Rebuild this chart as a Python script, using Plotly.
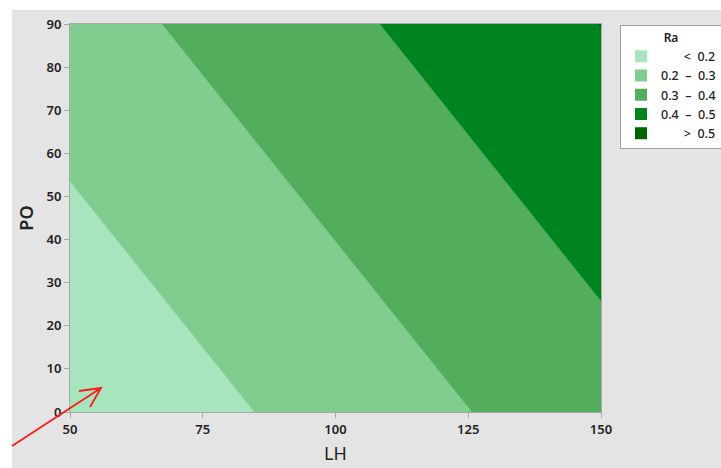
import plotly.graph_objects as go

# Data: Ra at the corners of the LH x PO region
LH = [50, 150]
PO = [0, 90]
Ra = [[0.1153, 0.3593],   # PO = 0
      [0.2578, 0.5015]]   # PO = 90

levels = [0.2, 0.3, 0.4, 0.5]
sp = "\u00a0"
band_labels = [sp * 7 + "<" + sp * 2 + "0.2",
               "0.2" + sp * 2 + "\u2013" + sp * 2 + "0.3",
               "0.3" + sp * 2 + "\u2013" + sp * 2 + "0.4",
               "0.4" + sp * 2 + "\u2013" + sp * 2 + "0.5",
               sp * 7 + ">" + sp * 2 + "0.5"]
band_colors = ["#a6e5bd", "#80cd8f", "#52ae5c", "#00841f", "#006400"]

x_ticks = [50, 75, 100, 125, 150]
y_ticks = [0, 10, 20, 30, 40, 50, 60, 70, 80, 90]

# stepwise colour scale, one bin per band
cs = []
n = len(band_colors)
for i, c in enumerate(band_colors):
    cs.append([i / n, c])
    cs.append([(i + 1) / n, c])

fig = go.Figure()
fig.add_trace(go.Contour(
    x=LH, y=PO, z=Ra,
    zmin=0.1, zmax=0.6,
    contours=dict(start=levels[0], end=levels[-1], size=0.1, coloring="fill", showlines=False),
    line=dict(width=0),
    colorscale=cs, showscale=False, hoverinfo="skip", showlegend=False,
))
for lab, col in zip(band_labels, band_colors):
    fig.add_trace(go.Scatter(
        x=[None], y=[None], mode="markers", name=lab,
        marker=dict(symbol="square", size=15, color=col),
    ))

W, H = 721, 468
L, R, T, B = 70, 120, 24, 56
pw, ph = W - L - R, H - T - B

def px(xp):
    return (xp - L) / pw

def py(yp):
    return (H - B - yp) / ph

fig.add_shape(type="rect", xref="paper", yref="paper", layer="below",
              x0=px(12), x1=px(W + 5), y0=py(H + 5), y1=py(10),
              fillcolor="#e4e4e4", line=dict(width=0))

# red arrow (shaft + open head)
tail = (12, 446)
tip = (101, 388)
b1 = (79, 391)
b2 = (90, 407)
path = (f"M {px(tail[0])},{py(tail[1])} L {px(tip[0])},{py(tip[1])} "
        f"M {px(b1[0])},{py(b1[1])} L {px(tip[0])},{py(tip[1])} L {px(b2[0])},{py(b2[1])}")
fig.add_shape(type="path", xref="paper", yref="paper", path=path,
              line=dict(color="#ff1a1a", width=1.8), layer="above")

tick_font = dict(family="Noto Sans", size=13, color="#222222", weight=600)
axis_common = dict(
    showgrid=False, zeroline=False, showline=True, linecolor="#a8a8a8", linewidth=1,
    mirror=True, ticks="outside", ticklen=5, tickcolor="#a8a8a8",
    tickfont=tick_font, automargin=False,
)
fig.update_xaxes(range=[50, 150], tickvals=x_ticks, **axis_common,
                 title=dict(text="LH", font=dict(family="Noto Sans", size=18, color="#222222"),
                            standoff=10))
fig.update_yaxes(range=[0, 90], tickvals=y_ticks, **axis_common,
                 title=dict(text="PO", font=dict(family="Noto Sans", size=18, color="#222222", weight=600),
                            standoff=8))

fig.update_layout(
    width=W, height=H, autosize=False,
    margin=dict(l=L, r=R, t=T, b=B, autoexpand=False),
    paper_bgcolor="white", plot_bgcolor="white",
    font=dict(family="Noto Sans", color="#222222"),
    legend=dict(
        x=px(620), xanchor="left", y=py(25), yanchor="top",
        bgcolor="white", bordercolor="#a0a0a0", borderwidth=1,
        font=dict(family="Noto Sans", size=12.5, color="#222222", weight=500),
        title=dict(text="Ra", side="top center", font=dict(size=12, weight=600)),
        itemsizing="constant", tracegroupgap=0,
    ),
)

fig.write_html("out.html", config={"responsive": False, "displayModeBar": False})

# remove default page margins so the figure fills the window exactly
with open("out.html", "r", encoding="utf-8") as f:
    html = f.read()
html = html.replace("<head>", "<head><style>html,body{margin:0;padding:0;overflow:hidden;}</style>", 1)
with open("out.html", "w", encoding="utf-8") as f:
    f.write(html)
